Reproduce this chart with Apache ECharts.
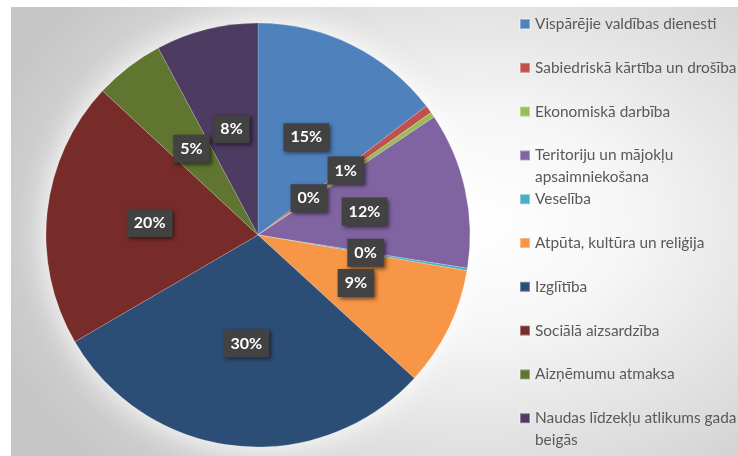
<!DOCTYPE html>
<html>
<head>
<meta charset="utf-8">
<script src="https://cdn.jsdelivr.net/npm/echarts@6/dist/echarts.min.js"></script>
<style>
  html, body { margin: 0; padding: 0; background: #ffffff; }
  #bg {
    position: absolute; left: 11px; top: 7px; width: 727px; height: 449px;
    background: radial-gradient(ellipse 70% 80% at 64% 48%, #ffffff 0%, #f6f6f6 30%, #dcdcdc 70%, #c6c6c6 100%);
  }
  #chart { position: absolute; left: 0; top: 0; width: 738px; height: 456px; }
</style>
</head>
<body>
<div id="bg"></div>
<div id="chart"></div>
<script>
const categories = [
  'Vispārējie valdības dienesti',
  'Sabiedriskā kārtība un drošība',
  'Ekonomiskā darbība',
  'Teritoriju un mājokļu apsaimniekošana',
  'Veselība',
  'Atpūta, kultūra un reliģija',
  'Izglītība',
  'Sociālā aizsardzība',
  'Aizņēmumu atmaksa',
  'Naudas līdzekļu atlikums gada beigās'
];
const shares = [14.6, 0.6, 0.4, 11.9, 0.2, 9.1, 29.8, 20.3, 5.3, 7.8];
const colors = ['#4F81BD', '#C0504D', '#9BBB59', '#8064A2', '#4BACC6',
                '#F79646', '#2C4D75', '#772C2A', '#5F7530', '#4D3B62'];

const chart = echarts.init(document.getElementById('chart'), null, { renderer: 'canvas' });

// Three text lines per legend entry: an empty first line keeps the name's
// first line level with the colour square; long names wrap onto the third.
function wrapName(name) {
  if (name.length <= 30) return ' \n' + name + '\n ';
  const cut = name.lastIndexOf(' ', 30);
  return ' \n' + name.slice(0, cut) + '\n' + name.slice(cut + 1);
}

const LH = 21.5;

chart.setOption({
  animation: false,
  backgroundColor: 'transparent',
  color: colors,
  legend: {
    orient: 'vertical',
    left: 519,
    top: 24 - 1.5 * LH,
    padding: 0,
    itemGap: 43.8 - 3 * LH,
    itemWidth: 10,
    itemHeight: 10,
    icon: 'rect',
    data: categories,
    formatter: wrapName,
    textStyle: { fontFamily: 'Lato', fontSize: 15.4, color: '#595959', lineHeight: LH }
  },
  series: [
    {
      type: 'pie',
      name: 'glow',
      silent: true,
      center: [258, 235],
      radius: 212,
      z: 1,
      label: { show: false },
      labelLine: { show: false },
      itemStyle: { color: '#ffffff', shadowBlur: 30, shadowColor: 'rgba(255,255,255,1)' },
      data: [{ value: 1, name: '' }]
    },
    {
      type: 'pie',
      center: [258, 235],
      radius: 212,
      z: 2,
      startAngle: 90,
      clockwise: true,
      avoidLabelOverlap: false,
      itemStyle: { borderColor: 'rgba(255,255,255,0.35)', borderWidth: 0.5 },
      label: {
        show: true,
        position: 'inside',
        formatter: p => Math.round(p.percent) + '%',
        fontFamily: 'Lato',
        fontWeight: 'bold',
        fontSize: 16,
        color: '#ffffff',
        lineHeight: 17,
        backgroundColor: '#424242',
        padding: [6, 7, 5, 7],
        shadowColor: 'rgba(0,0,0,0.55)',
        shadowBlur: 4,
        shadowOffsetX: 2,
        shadowOffsetY: 2
      },
      labelLine: { show: false },
      labelLayout: function (params) {
        if (params.dataIndex === 2) return { dx: -39, dy: 25 };
      },
      emphasis: { disabled: true },
      data: categories.map((n, i) => ({ name: n, value: shares[i] }))
    }
  ]
});
</script>
</body>
</html>
